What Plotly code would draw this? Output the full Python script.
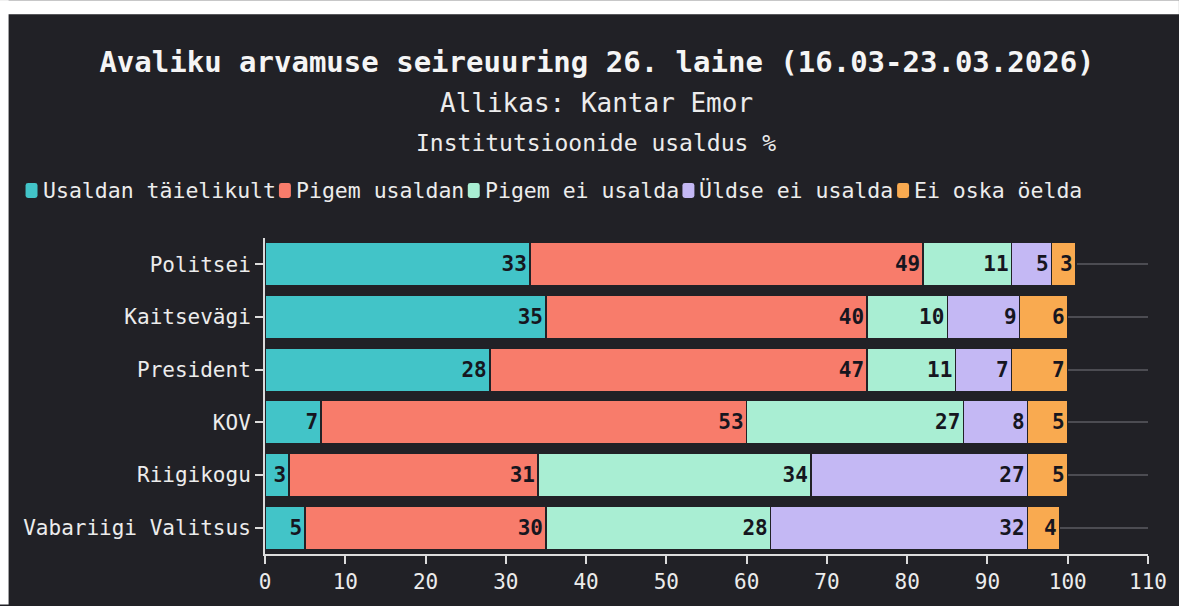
import plotly.graph_objects as go

# ---------------- data ----------------
categories = ["Politsei", "Kaitsevägi", "President", "KOV", "Riigikogu", "Vabariigi Valitsus"]
series_names = ["Usaldan täielikult", "Pigem usaldan", "Pigem ei usalda", "Üldse ei usalda", "Ei oska öelda"]
usaldan_taielikult = [33, 35, 28, 7, 3, 5]
pigem_usaldan = [49, 40, 47, 53, 31, 30]
pigem_ei_usalda = [11, 10, 11, 27, 34, 28]
uldse_ei_usalda = [5, 9, 7, 8, 27, 32]
ei_oska_oelda = [3, 6, 7, 5, 5, 4]
x_ticks = [0, 10, 20, 30, 40, 50, 60, 70, 80, 90, 100, 110]

title_text = "Avaliku arvamuse seireuuring 26. laine (16.03-23.03.2026)"
source_text = "Allikas: Kantar Emor"
subtitle_text = "Institutsioonide usaldus %"

# ---------------- style ----------------
colors = ["#42C4C8", "#F87C6B", "#A9EED3", "#C4B8F4", "#F9AA50"]
BG = "#212126"
FG = "#ECECEC"
AXIS = "#DCDCDC"
FONT = "DejaVu Sans Mono"

W, H = 1179, 606
L, R, T, B = 265, 29, 238, 49
PW = W - L - R
PH = H - T - B


def px(x):
    return (x - L) / PW


def py(y):
    return (H - B - y) / PH


series_values = [usaldan_taielikult, pigem_usaldan, pigem_ei_usalda, uldse_ei_usalda, ei_oska_oelda]

fig = go.Figure()
for name, vals, col in zip(series_names, series_values, colors):
    fig.add_trace(go.Bar(
        y=categories, x=vals, orientation="h", name=name,
        marker=dict(color=col, line=dict(color=BG, width=1.5)),
        text=vals, textposition="inside", insidetextanchor="end", textangle=0,
        constraintext="inside",
        textfont=dict(family=FONT, size=21, color="#16161F", weight="bold"),
        showlegend=False,
    ))

shapes = []
annotations = []

# white frame strips (top and left) as in the screenshot
shapes.append(dict(type="rect", xref="paper", yref="paper", x0=px(-2), x1=px(W + 2), y0=py(12), y1=py(-2),
                   fillcolor="white", line=dict(width=0), layer="above"))
shapes.append(dict(type="rect", xref="paper", yref="paper", x0=px(-2), x1=px(8), y0=py(H + 2), y1=py(-2),
                   fillcolor="white", line=dict(width=0), layer="above"))

# custom legend row
LEG_FS = 21.5
charw = 0.602 * LEG_FS
xcur = 25
ymid = 190
for name, col in zip(series_names, colors):
    x0, x1 = xcur, xcur + 12
    y0, y1 = ymid - 7.5, ymid + 7.5
    r = 2.5
    path = (f"M {px(x0 + r)} {py(y0)} L {px(x1 - r)} {py(y0)} Q {px(x1)} {py(y0)} {px(x1)} {py(y0 + r)} "
            f"L {px(x1)} {py(y1 - r)} Q {px(x1)} {py(y1)} {px(x1 - r)} {py(y1)} "
            f"L {px(x0 + r)} {py(y1)} Q {px(x0)} {py(y1)} {px(x0)} {py(y1 - r)} "
            f"L {px(x0)} {py(y0 + r)} Q {px(x0)} {py(y0)} {px(x0 + r)} {py(y0)} Z")
    shapes.append(dict(type="path", xref="paper", yref="paper", path=path, fillcolor=col,
                       line=dict(width=0)))
    annotations.append(dict(text=name, xref="paper", yref="paper", x=px(x1 + 3), y=py(ymid),
                            xanchor="left", yanchor="middle", showarrow=False,
                            font=dict(family=FONT, size=LEG_FS, color=FG)))
    xcur = x1 + 3 + len(name) * charw + 6

annotations.append(dict(text=source_text, xref="paper", yref="paper", x=px(597), y=py(102),
                        xanchor="center", yanchor="middle", showarrow=False,
                        font=dict(family=FONT, size=26, color=FG)))
annotations.append(dict(text=subtitle_text, xref="paper", yref="paper", x=px(597), y=py(142),
                        xanchor="center", yanchor="middle", showarrow=False,
                        font=dict(family=FONT, size=23, color=FG)))

fig.update_layout(
    width=W, height=H,
    margin=dict(l=L, r=R, t=T, b=B, pad=0),
    paper_bgcolor=BG, plot_bgcolor=BG,
    barmode="stack", bargap=0.17,
    title=dict(text=f"<b>{title_text}</b>", x=597 / W, xanchor="center", y=1 - 62 / H, yanchor="middle",
               font=dict(family=FONT, size=29, color="#F5F5F5")),
    font=dict(family=FONT, color=FG),
    xaxis=dict(range=[0, 110], tickvals=x_ticks, ticks="outside", ticklen=8, tickwidth=2,
               tickcolor=AXIS, showline=True, linecolor=AXIS, linewidth=2, showgrid=False,
               zeroline=False, tickfont=dict(family=FONT, size=21, color=FG), fixedrange=True),
    yaxis=dict(autorange="reversed", ticks="outside", ticklen=8, tickwidth=2, tickcolor=AXIS,
               showline=True, linecolor=AXIS, linewidth=2, showgrid=True, gridcolor="#4C4C52",
               gridwidth=2, tickfont=dict(family=FONT, size=21, color=FG), fixedrange=True),
    shapes=shapes, annotations=annotations,
    uniformtext=dict(mode=False),
)

fig.write_html(
    "out.html",
    config={"displayModeBar": False},
    post_script=(
        "document.documentElement.style.margin='0';"
        "document.documentElement.style.overflow='hidden';"
        "document.body.style.margin='0';"
        "document.body.style.overflow='hidden';"
    ),
)
